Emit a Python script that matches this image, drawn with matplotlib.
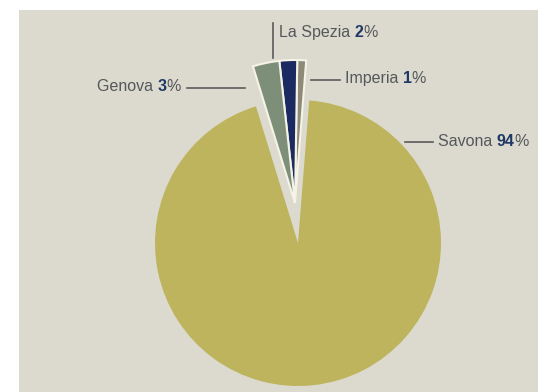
import matplotlib.pyplot as plt
from matplotlib.patches import Rectangle

# dati
province = ["Imperia", "La Spezia", "Genova", "Savona"]
quote = [1, 2, 3, 94]
colori = ["#8e8a78", "#1b2a60", "#7d8f79", "#bdb45d"]

# posizione etichette (pixel, origine in alto a sinistra)
# Genova e' allineata a destra, le altre a sinistra
etichette_xy = {
    "Imperia": (345, 78),
    "La Spezia": (279, 32),
    "Genova": (181, 86),
    "Savona": (438, 141),
}
linee = {
    "Imperia": ((311, 340), (80, 80)),
    "La Spezia": ((273, 273), (23, 58)),
    "Genova": ((187, 245), (88, 88)),
    "Savona": ((405, 433), (142, 142)),
}

W, H = 538, 392
fig = plt.figure(figsize=(W / 100, H / 100), dpi=100, facecolor="white")
ax = fig.add_axes([0, 0, 1, 1])
ax.set_facecolor("none")
ax.add_patch(Rectangle((19, 0), W, H - 10, facecolor="#dcdacf", edgecolor="none", zorder=0))

centro = (298, H - 243)
raggio = 143
start = 85.5

# fetta grande (Savona)
ax.pie(quote, colors=["none", "none", "none", colori[3]], startangle=start,
       radius=raggio, center=centro,
       wedgeprops=dict(edgecolor="none", linewidth=0, zorder=2))
# fette piccole spostate verso l'alto
ax.pie(quote, colors=colori[:3] + ["none"], startangle=start,
       radius=raggio, center=(centro[0] - 3, centro[1] + 40),
       wedgeprops=dict(edgecolor="#f5f2e6", linewidth=1.5, zorder=2))
for w in ax.patches:
    if w.get_facecolor()[3] == 0:
        w.set_edgecolor("none")

ax.set_xlim(0, W)
ax.set_ylim(0, H)
ax.set_aspect("equal")
ax.axis("off")

stile = dict(fontsize=11.5, family="Liberation Sans")
grigio, blu = "#55585a", "#1f3864"
for nome, q in zip(province, quote):
    x, y = etichette_xy[nome]
    if nome == "Genova":
        t = ax.text(x, H - y, "%", color=grigio, va="center", ha="right", **stile)
        t2 = ax.annotate(str(q), xycoords=t, xy=(0, 0), va="bottom", ha="right",
                         color=blu, fontweight="bold", **stile)
        ax.annotate(nome + " ", xycoords=t2, xy=(0, 0), va="bottom", ha="right",
                    color=grigio, **stile)
    else:
        t = ax.text(x, H - y, nome + " ", color=grigio, va="center", ha="left", **stile)
        t2 = ax.annotate(str(q), xycoords=t, xy=(1, 0), va="bottom", ha="left",
                         color=blu, fontweight="bold", **stile)
        ax.annotate("%", xycoords=t2, xy=(1, 0), va="bottom", ha="left",
                    color=grigio, **stile)
    lx, ly = linee[nome]
    ax.plot(lx, [H - v for v in ly], color="#5a5a5a", linewidth=1.2)

fig.savefig("out.png", dpi=100, facecolor="white")
